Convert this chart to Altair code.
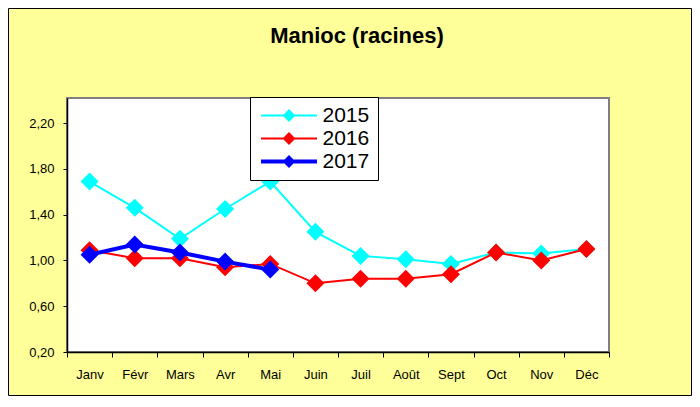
import altair as alt
import pandas as pd

months = ["Janv", "Févr", "Mars", "Avr", "Mai", "Juin", "Juil", "Août", "Sept", "Oct", "Nov", "Déc"]
years = ["2015", "2016", "2017"]
v2015 = [1.69, 1.46, 1.19, 1.45, 1.69, 1.25, 1.04, 1.01, 0.97, 1.07, 1.06, 1.10]
v2016 = [1.09, 1.02, 1.02, 0.94, 0.97, 0.80, 0.84, 0.84, 0.88, 1.07, 1.00, 1.10]
v2017 = [1.05, 1.14, 1.07, 0.99, 0.92]
colors = ["#00FFFF", "#FF0000", "#0000FF"]
line_widths = [2, 2, 4]
y_ticks = [0.2, 0.6, 1.0, 1.4, 1.8, 2.2]

rows = []
for yr, vals in zip(years, [v2015, v2016, v2017]):
    for m, v in zip(months, vals):
        rows.append({"mois": m, "annee": yr, "prix": v})
df = pd.DataFrame(rows)

FONT = "Liberation Sans, Arial, Helvetica, sans-serif"
W, H = 542, 254
PAD = {"left": 59, "top": 90, "right": 83, "bottom": 44}

# legend symbols: a line with a diamond on it (filled paths, thicker line for 2017)
thin = "M-2.95,-0.11L2.95,-0.11L2.95,0.11L-2.95,0.11Z M0,-0.68L0.68,0L0,0.68L-0.68,0Z"
thick = "M-2.95,-0.22L2.95,-0.22L2.95,0.22L-2.95,0.22Z M0,-0.68L0.68,0L0,0.68L-0.68,0Z"
legend_shapes = [thin, thin, thick]

leg = alt.Legend(
    title=None, orient="none", legendX=183, legendY=-1,
    fillColor="white", strokeColor="black", padding=8,
    symbolSize=361, symbolOffset=20.5, symbolStrokeWidth=0, symbolOpacity=1,
    labelOffset=23, labelFont=FONT, labelFontSize=21, labelColor="black",
    rowPadding=1,
)

color_plain = alt.Color("annee:N", scale=alt.Scale(domain=years, range=colors), legend=None)
color_leg = alt.Color("annee:N", scale=alt.Scale(domain=years, range=colors), legend=leg)
shape_leg = alt.Shape("annee:N", scale=alt.Scale(domain=years, range=legend_shapes), legend=leg)

x = alt.X(
    "mois:N", sort=months,
    scale=alt.Scale(type="band", domain=months, paddingInner=0, paddingOuter=0),
    axis=alt.Axis(title=None, tickBand="extent", labelAngle=0, labelFont=FONT,
                  labelFontSize=13, labelColor="black", labelPadding=11,
                  tickSize=5, tickColor="black", domainColor="black", domainWidth=1.5,
                  grid=False),
)
y = alt.Y(
    "prix:Q",
    scale=alt.Scale(domain=[0.2, 2.42], nice=False, zero=False),
    axis=alt.Axis(title=None, values=y_ticks,
                  labelExpr="replace(format(datum.value, '.2f'), '.', ',')",
                  labelFont=FONT, labelFontSize=13, labelColor="black", labelPadding=9,
                  tickSize=4, tickColor="black", domainColor="black", domainWidth=1.5,
                  grid=False),
)

# outer chart frame
frame = alt.Chart(alt.Data(values=[{}])).mark_rect(
    fill="transparent", stroke="black", strokeWidth=1
).encode(
    x=alt.value(-PAD["left"] + 0.5), x2=alt.value(W + PAD["right"] - 0.5),
    y=alt.value(-PAD["top"] + 0.5), y2=alt.value(H + PAD["bottom"] - 0.5),
)

layers = [frame]
base = alt.Chart(df)
for yr, w in zip(years, line_widths):
    sub = base.transform_filter(alt.datum.annee == yr)
    layers.append(sub.mark_line(strokeWidth=w).encode(x=x, y=y, color=color_plain))
    layers.append(sub.mark_point(shape="diamond", filled=True, size=324, opacity=1).encode(
        x=x, y=y, color=color_plain))

# legend-only layer (no data rows drawn)
legend_layer = base.transform_filter("false").mark_point(
    filled=True, opacity=1, strokeWidth=0
).encode(x=x, y=y, color=color_leg, shape=shape_leg)
layers.append(legend_layer)

chart = alt.layer(*layers).resolve_scale(
    color="independent", shape="independent"
).properties(
    width=W, height=H,
    autosize=alt.AutoSizeParams(type="none"),
    padding=PAD,
    background="#FFFF99",
    title=alt.TitleParams("Manioc (racines)", font=FONT, fontSize=22, fontWeight="bold",
                          color="black", anchor="middle", dx=19, offset=-57,
                          baseline="alphabetic"),
).configure_view(stroke="#808080", strokeWidth=2, fill="white")

chart.save("out.html", embed_options={"renderer": "svg", "actions": False})
